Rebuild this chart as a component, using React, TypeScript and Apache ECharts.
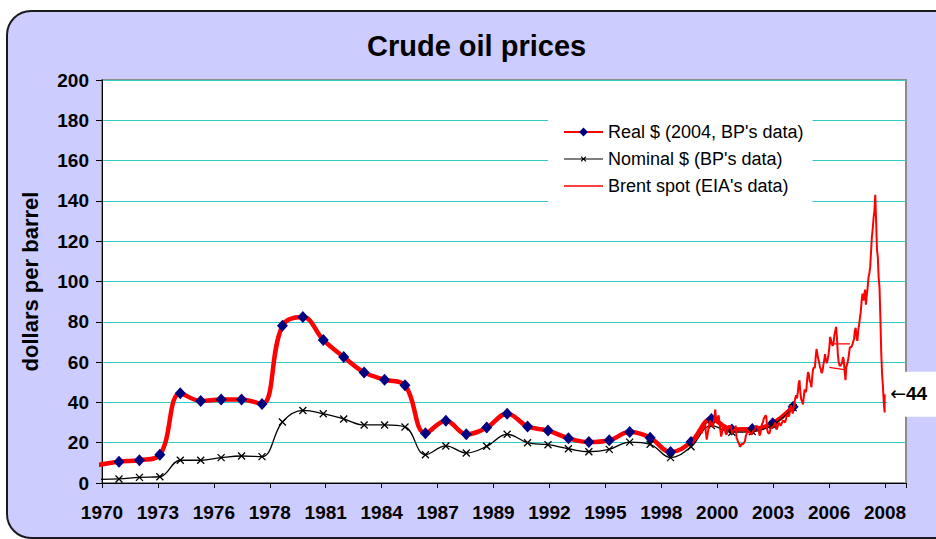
import React, { useEffect, useRef } from "react";
import * as echarts from "echarts";

// ---------- data ----------
const TITLE = "Crude oil prices";
const Y_NAME = "dollars per barrel";
const X_LABELS = ["1970", "1973", "1976", "1978", "1981", "1984", "1987", "1989", "1992", "1995", "1998", "2000", "2003", "2006", "2008"];

const BP_YEARS = [1970, 1971, 1972, 1973, 1974, 1975, 1976, 1977, 1978, 1979, 1980, 1981, 1982, 1983, 1984, 1985, 1986, 1987, 1988, 1989, 1990, 1991, 1992, 1993, 1994, 1995, 1996, 1997, 1998, 1999, 2000, 2001, 2002, 2003, 2004];
const REAL_2004 = [9.0, 10.6, 11.3, 14.0, 44.5, 40.7, 41.5, 41.5, 39.2, 78.1, 82.4, 71.0, 62.5, 54.9, 51.3, 48.5, 24.7, 30.9, 24.2, 27.5, 34.4, 28.1, 26.0, 22.2, 20.3, 21.2, 25.3, 22.5, 15.4, 20.3, 31.7, 26.6, 26.8, 29.6, 37.9];
const NOMINAL = [1.8, 2.0, 2.8, 3.1, 11.3, 11.3, 12.6, 13.4, 13.1, 30.3, 36.0, 34.4, 31.8, 28.8, 28.8, 27.8, 14.0, 18.4, 14.9, 18.2, 24.2, 20.0, 19.0, 17.0, 15.5, 16.7, 20.3, 19.2, 12.6, 18.0, 28.5, 25.2, 25.5, 28.8, 37.4];

// Brent spot: [year, month, first-half value, second-half value]
const BRENT = [
  [1999, 8, 19.5, 21.0], [1999, 9, 22.8, 23.5], [1999, 10, 21.5, 22.5], [1999, 11, 24.0, 25.5], [1999, 12, 25.0, 26.0],
  [2000, 1, 24.5, 27.0], [2000, 2, 28.5, 27.0], [2000, 3, 30.5, 25.0], [2000, 4, 21.5, 24.0], [2000, 5, 27.0, 29.0], [2000, 6, 31.0, 28.5],
  [2000, 7, 30.0, 27.5], [2000, 8, 29.5, 32.5], [2000, 9, 36.5, 31.0], [2000, 10, 31.5, 32.5], [2000, 11, 33.5, 30.5], [2000, 12, 26.0, 23.0],
  [2001, 1, 25.0, 27.0], [2001, 2, 28.5, 27.0], [2001, 3, 25.0, 24.0], [2001, 4, 25.0, 27.5], [2001, 5, 28.5, 28.0], [2001, 6, 28.5, 26.5],
  [2001, 7, 24.5, 25.5], [2001, 8, 26.5, 26.0], [2001, 9, 28.5, 22.5], [2001, 10, 21.5, 20.0], [2001, 11, 19.5, 18.0], [2001, 12, 18.5, 19.5],
  [2002, 1, 19.0, 19.5], [2002, 2, 20.0, 21.0], [2002, 3, 23.5, 24.5], [2002, 4, 26.5, 25.0], [2002, 5, 25.5, 25.0], [2002, 6, 24.0, 24.5],
  [2002, 7, 25.5, 26.0], [2002, 8, 26.0, 27.0], [2002, 9, 28.5, 28.0], [2002, 10, 28.0, 26.5], [2002, 11, 23.5, 24.5], [2002, 12, 27.0, 29.5],
  [2003, 1, 30.0, 32.0], [2003, 2, 32.5, 33.5], [2003, 3, 33.0, 26.5], [2003, 4, 25.0, 24.5], [2003, 5, 25.0, 27.0], [2003, 6, 27.5, 27.5],
  [2003, 7, 28.0, 28.5], [2003, 8, 30.0, 29.5], [2003, 9, 26.5, 27.5], [2003, 10, 29.0, 30.0], [2003, 11, 29.0, 28.5], [2003, 12, 29.5, 30.5],
  [2004, 1, 31.0, 30.5], [2004, 2, 30.0, 31.5], [2004, 3, 33.5, 34.0], [2004, 4, 33.0, 33.5], [2004, 5, 37.5, 38.5], [2004, 6, 36.5, 34.5],
  [2004, 7, 37.0, 39.5], [2004, 8, 42.0, 43.5], [2004, 9, 42.0, 45.0], [2004, 10, 49.5, 51.0], [2004, 11, 45.0, 41.5], [2004, 12, 40.5, 39.0],
  [2005, 1, 42.5, 46.5], [2005, 2, 45.0, 46.0], [2005, 3, 51.5, 55.0], [2005, 4, 54.0, 50.5], [2005, 5, 50.0, 47.5], [2005, 6, 53.0, 56.5],
  [2005, 7, 57.5, 57.0], [2005, 8, 62.5, 66.5], [2005, 9, 64.0, 61.5], [2005, 10, 60.0, 57.5], [2005, 11, 56.5, 54.5], [2005, 12, 55.5, 58.5],
  [2006, 1, 61.0, 64.0], [2006, 2, 61.0, 59.5], [2006, 3, 61.0, 63.5], [2006, 4, 67.0, 72.5], [2006, 5, 71.0, 69.0], [2006, 6, 68.0, 69.5],
  [2006, 7, 73.5, 75.5], [2006, 8, 77.5, 72.0], [2006, 9, 64.0, 60.0], [2006, 10, 58.5, 58.0], [2006, 11, 59.0, 59.5], [2006, 12, 62.5, 61.0],
  [2007, 1, 55.5, 51.0], [2007, 2, 57.5, 59.0], [2007, 3, 61.0, 63.5], [2007, 4, 67.0, 67.5], [2007, 5, 67.5, 68.5], [2007, 6, 70.0, 71.5],
  [2007, 7, 75.5, 77.0], [2007, 8, 72.0, 70.5], [2007, 9, 76.0, 78.5], [2007, 10, 82.0, 85.0], [2007, 11, 90.5, 94.0], [2007, 12, 90.5, 93.5],
  [2008, 1, 96.0, 88.5], [2008, 2, 93.0, 97.0], [2008, 3, 102.0, 104.0], [2008, 4, 107.0, 114.5], [2008, 5, 122.0, 126.0], [2008, 6, 131.5, 135.0],
  [2008, 7, 143.0, 130.0], [2008, 8, 116.0, 112.0], [2008, 9, 102.0, 97.0], [2008, 10, 82.0, 65.0], [2008, 11, 54.0, 48.0], [2008, 12, 40.0, 35.0],
];
const BRENT_LAST_DATE = 2008.98;
const BRENT_LAST = 44;
// straight joins in the EIA series where dates jump (from date, value, to date, value)
const BRENT_JOINS = [
  [2006.27, 69.0, 2007.28, 69.0],
  [2006.27, 57.4, 2007.08, 56.1],
];

// ---------- axis mapping (Excel date axis: one tick per 1000 days) ----------
const T0 = 1970.668;
const STEP = 2.7379;
const X_MAX = 14.375;
const u = (t: number) => (t - T0) / STEP;

const FONT = "'Liberation Sans', Arial, sans-serif";
const NOMINAL_ICON =
  "path://M0,4.4h40v1.2h-40z M17.1,2.9L17.9,2.1L22.9,7.1L22.1,7.9Z M22.1,2.1L22.9,2.9L17.9,7.9L17.1,7.1Z";

export default function App() {
  const ref = useRef<HTMLDivElement>(null);

  useEffect(() => {
    if (!ref.current) return;
    const chart = echarts.init(ref.current, undefined, { renderer: "svg" });

    const realData = BP_YEARS.map((y, i) =>
      i === 0 ? { value: [u(y + 0.5), REAL_2004[i]], symbol: "none" } : [u(y + 0.5), REAL_2004[i]]
    );
    const nomData = BP_YEARS.map((y, i) =>
      i === 0 ? { value: [u(y + 0.5), NOMINAL[i]], symbol: "none" } : [u(y + 0.5), NOMINAL[i]]
    );
    const brentData: any[] = [];
    BRENT.forEach(([y, m, a, b]) => {
      brentData.push([u(y + (m - 0.75) / 12), a]);
      brentData.push([u(y + (m - 0.25) / 12), b]);
    });
    brentData.push([u(BRENT_LAST_DATE), BRENT_LAST]);

    const joinData: any[] = [];
    BRENT_JOINS.forEach(([t1, v1, t2, v2], i) => {
      if (i > 0) joinData.push([u(t1), "-"]);
      joinData.push([u(t1), v1]);
      joinData.push([u(t2), v2]);
    });

    const option: any = {
      animation: false,
      backgroundColor: "transparent",
      graphic: {
        elements: [
          {
            type: "rect",
            z: -10,
            silent: true,
            shape: { x: 7, y: 11, width: 960, height: 527, r: 24 },
            style: { fill: "#CCCCFF", stroke: "#1a1a1a", lineWidth: 2 },
          },
        ],
      },
      title: {
        text: TITLE,
        left: 367,
        top: 31,
        padding: 0,
        textStyle: { fontSize: 29, fontWeight: "bold", fontFamily: FONT, color: "#000" },
      },
      legend: {
        orient: "vertical",
        left: 548,
        top: 108,
        backgroundColor: "#fff",
        padding: [15, 9, 10, 15],
        itemWidth: 39,
        itemHeight: 11,
        itemGap: 9,
        textStyle: { fontSize: 18, fontFamily: FONT, color: "#000" },
        data: [
          { name: "Real $ (2004, BP's data)" },
          { name: "Nominal $ (BP's data)", icon: NOMINAL_ICON, itemStyle: { color: "#000", borderWidth: 0 } },
          { name: "Brent spot (EIA's data)", icon: "path://M0,0h40v1.6h-40z" },
        ],
      },
      grid: {
        left: 102,
        right: 30,
        top: 80,
        bottom: 56,
        show: true,
        backgroundColor: "#fff",
        borderColor: "#8c8c8c",
        borderWidth: 2,
      },
      xAxis: {
        type: "value",
        min: 0,
        max: X_MAX,
        interval: 1,
        axisLine: { show: true, onZero: false, lineStyle: { color: "#000", width: 1 } },
        axisTick: { show: true, length: 5, lineStyle: { color: "#000" } },
        splitLine: { show: false },
        axisLabel: {
          margin: 20,
          fontSize: 19,
          fontWeight: "bold",
          fontFamily: FONT,
          color: "#000",
          showMaxLabel: true,
          formatter: (v: number) => {
            const k = Math.round(v);
            return Math.abs(v - k) < 0.01 && X_LABELS[k] ? X_LABELS[k] : "";
          },
        },
      },
      yAxis: {
        type: "value",
        min: 0,
        max: 200,
        interval: 20,
        name: Y_NAME,
        nameLocation: "middle",
        nameGap: 61,
        nameRotate: 90,
        nameTextStyle: { fontSize: 22, fontWeight: "bold", fontFamily: FONT, color: "#000" },
        axisLine: { show: true, lineStyle: { color: "#000", width: 1 } },
        axisTick: { show: true, length: 6, lineStyle: { color: "#000" } },
        splitLine: { show: true, lineStyle: { color: "#33CCCC", width: 1 } },
        axisLabel: { margin: 13, fontSize: 19, fontWeight: "bold", fontFamily: FONT, color: "#000" },
      },
      series: [
        {
          name: "Real $ (2004, BP's data)",
          type: "line",
          data: realData,
          smooth: 0.4,
          clip: false,
          symbol: "diamond",
          symbolSize: [11, 12],
          lineStyle: { color: "#FF0000", width: 4.5 },
          itemStyle: { color: "#000080" },
          z: 2,
        },
        {
          name: "Nominal $ (BP's data)",
          type: "line",
          data: nomData,
          smooth: 0.4,
          clip: false,
          symbol: "path://M0,0L10,10M0,10L10,0",
          symbolSize: 7,
          lineStyle: { color: "#000", width: 1.3 },
          itemStyle: { color: "#000", borderColor: "#000", borderWidth: 1.3 },
          z: 3,
        },
        {
          name: "Brent spot (EIA's data)",
          type: "line",
          data: brentData,
          symbol: "none",
          showSymbol: false,
          lineStyle: { color: "#FF0000", width: 2 },
          itemStyle: { color: "#FF0000" },
          z: 4,
          markPoint: {
            symbol: "rect",
            symbolSize: 1,
            itemStyle: { color: "transparent" },
            data: [{ coord: [u(BRENT_LAST_DATE), BRENT_LAST], value: BRENT_LAST }],
            label: {
              show: true,
              position: "right",
              distance: 2,
              formatter: (p: any) => `{a|←}{b|${p.value}}`,
              backgroundColor: "#fff",
              padding: [12, 20, 14, 3],
              rich: {
                a: { fontSize: 19, fontFamily: "'DejaVu Sans', sans-serif", color: "#000" },
                b: { fontSize: 19, fontWeight: "bold", fontFamily: FONT, color: "#000" },
              },
            },
          },
        },
        {
          name: "Brent joins",
          type: "line",
          data: joinData,
          symbol: "none",
          showSymbol: false,
          connectNulls: false,
          lineStyle: { color: "#FF0000", width: 1.2 },
          z: 4,
        },
      ],
    };

    chart.setOption(option);
    return () => chart.dispose();
  }, []);

  return (
    <div
      ref={ref}
      style={{ position: "absolute", left: 0, top: 0, width: 936, height: 539 }}
    />
  );
}
